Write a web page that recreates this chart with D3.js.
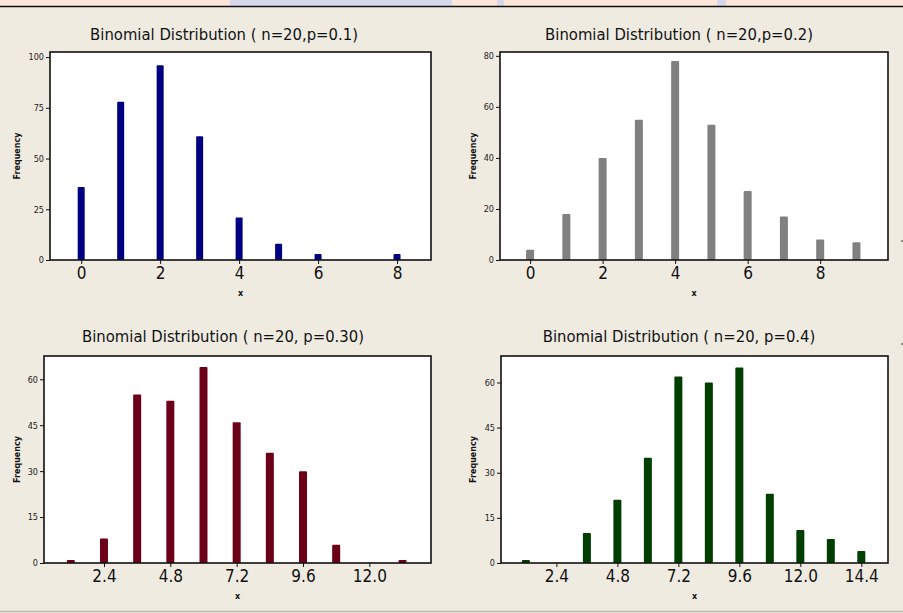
<!DOCTYPE html>
<html>
<head>
<meta charset="utf-8">
<script src="https://cdn.jsdelivr.net/npm/d3@7"></script>
<style>
  html, body { margin: 0; padding: 0; background: #efebe1; }
  svg { display: block; }
  .title { font-family: "DejaVu Sans Condensed", "DejaVu Sans", sans-serif; font-size: 16.5px; fill: #111; }
  .ytick text { font-family: "DejaVu Sans Condensed", "DejaVu Sans", sans-serif; font-size: 9px; fill: #222; }
  .xtick text { font-family: "DejaVu Sans Condensed", "DejaVu Sans", sans-serif; font-size: 17px; fill: #111; }
  .axlab { font-family: "DejaVu Sans", sans-serif; font-size: 8px; font-weight: bold; fill: #111; }
</style>
</head>
<body>
<script>
// Binomial samples, n = 20; four panels
const titles = [
  "Binomial Distribution ( n=20,p=0.1)",
  "Binomial Distribution ( n=20,p=0.2)",
  "Binomial Distribution ( n=20, p=0.30)",
  "Binomial Distribution ( n=20, p=0.4)",
];

const x1 = [0, 1, 2, 3, 4, 5, 6, 8];
const freq1 = [36, 78, 96, 61, 21, 8, 3, 3];

const x2 = [0, 1, 2, 3, 4, 5, 6, 7, 8, 9];
const freq2 = [4, 18, 40, 55, 78, 53, 27, 17, 8, 7];

const x3 = [1.2, 2.4, 3.6, 4.8, 6.0, 7.2, 8.4, 9.6, 10.8, 13.2];
const freq3 = [1, 8, 55, 53, 64, 46, 36, 30, 6, 1];

const x4 = [1.2, 3.6, 4.8, 6.0, 7.2, 8.4, 9.6, 10.8, 12.0, 13.2, 14.4];
const freq4 = [1, 10, 21, 35, 62, 60, 65, 23, 11, 8, 4];

const yTicks1 = [0, 25, 50, 75, 100];
const yTicks2 = [0, 20, 40, 60, 80];
const yTicks34 = [0, 15, 30, 45, 60];
const xTicks12 = [0, 2, 4, 6, 8];
const xTicks3 = [2.4, 4.8, 7.2, 9.6, 12.0];
const xTicks4 = [2.4, 4.8, 7.2, 9.6, 12.0, 14.4];

const W = 903, H = 613;

const panels = [
  { title: titles[0], xs: x1, ys: freq1, color: "#000080",
    box: [50, 52, 431, 260], xDom: [-0.79, 8.86], yDom: [0, 102.5],
    xTicks: xTicks12, yTicks: yTicks1, fmt: d3.format("d"), tx: 224, ty: 40, fx: 17, bw: 7 },
  { title: titles[1], xs: x2, ys: freq2, color: "#808080",
    box: [500, 52, 888, 260], xDom: [-0.83, 9.87], yDom: [0, 81.5],
    xTicks: xTicks12, yTicks: yTicks2, fmt: d3.format("d"), tx: 679, ty: 40, fx: 473, bw: 8 },
  { title: titles[2], xs: x3, ys: freq3, color: "#6c0018",
    box: [44, 356, 431, 563], xDom: [0.23, 14.23], yDom: [0, 67.6],
    xTicks: xTicks3, yTicks: yTicks34, fmt: d3.format(".1f"), tx: 223, ty: 342, fx: 17, bw: 8 },
  { title: titles[3], xs: x4, ys: freq4, color: "#003f00",
    box: [501, 356, 888, 563], xDom: [0.22, 15.45], yDom: [0, 68.8],
    xTicks: xTicks4, yTicks: yTicks34, fmt: d3.format(".1f"), tx: 679, ty: 342, fx: 473, bw: 8 },
];

const svg = d3.select("body").append("svg").attr("width", W).attr("height", H);

// page decoration: header strip and bottom rule
svg.append("rect").attr("x", 0).attr("y", 0).attr("width", W).attr("height", 6).attr("fill", "#fce6da");
svg.append("rect").attr("x", 230).attr("y", 0).attr("width", 222).attr("height", 6).attr("fill", "#d8d8ec");
svg.append("rect").attr("x", 497).attr("y", 0).attr("width", 7).attr("height", 6).attr("fill", "#d8d8ec");
svg.append("rect").attr("x", 717).attr("y", 0).attr("width", 9).attr("height", 6).attr("fill", "#d8d8ec");
svg.append("line").attr("x1", 0).attr("x2", W).attr("y1", 6.5).attr("y2", 6.5).attr("stroke", "#111").attr("stroke-width", 1.5);
svg.append("line").attr("x1", 0).attr("x2", W).attr("y1", 611.5).attr("y2", 611.5).attr("stroke", "#bdb9af").attr("stroke-width", 1.5);
[241, 344].forEach(y => svg.append("line").attr("x1", 901).attr("x2", 903).attr("y1", y).attr("y2", y)
  .attr("stroke", "#333").attr("stroke-width", 1));

panels.forEach(p => {
  const [L, T, R, B] = p.box;
  const x = d3.scaleLinear().domain(p.xDom).range([L, R]);
  const y = d3.scaleLinear().domain(p.yDom).range([B, T]);
  const g = svg.append("g");

  g.append("rect").attr("x", L).attr("y", T).attr("width", R - L).attr("height", B - T)
    .attr("fill", "#fff");

  g.selectAll("rect.bar").data(p.xs).enter().append("rect")
    .attr("class", "bar")
    .attr("x", d => x(d) - p.bw / 2)
    .attr("y", (d, i) => y(p.ys[i]))
    .attr("width", p.bw)
    .attr("height", (d, i) => y(0) - y(p.ys[i]))
    .attr("rx", 1)
    .attr("fill", p.color);

  g.append("rect").attr("x", L).attr("y", T).attr("width", R - L).attr("height", B - T)
    .attr("fill", "none").attr("stroke", "#111").attr("stroke-width", 1.6);

  const ya = g.append("g").attr("class", "ytick").attr("transform", `translate(${L},0)`)
    .call(d3.axisLeft(y).tickValues(p.yTicks).tickSize(4).tickPadding(2).tickFormat(d3.format("d")));
  ya.select(".domain").remove();
  ya.selectAll("line").attr("stroke", "#111");

  const xa = g.append("g").attr("class", "xtick").attr("transform", `translate(0,${B})`)
    .call(d3.axisBottom(x).tickValues(p.xTicks).tickSize(4).tickPadding(3).tickFormat(p.fmt));
  xa.select(".domain").remove();
  xa.selectAll("line").attr("stroke", "#111");

  g.append("text").attr("class", "title").attr("x", p.tx).attr("y", p.ty)
    .attr("text-anchor", "middle").text(p.title);

  g.append("text").attr("class", "axlab").attr("x", (L + R) / 2).attr("y", B + 36)
    .attr("text-anchor", "middle").text("x");

  g.append("text").attr("class", "axlab")
    .attr("transform", `translate(${p.fx + 3},${(T + B) / 2}) rotate(-90)`)
    .attr("text-anchor", "middle").text("Frequency");
});
</script>
</body>
</html>
